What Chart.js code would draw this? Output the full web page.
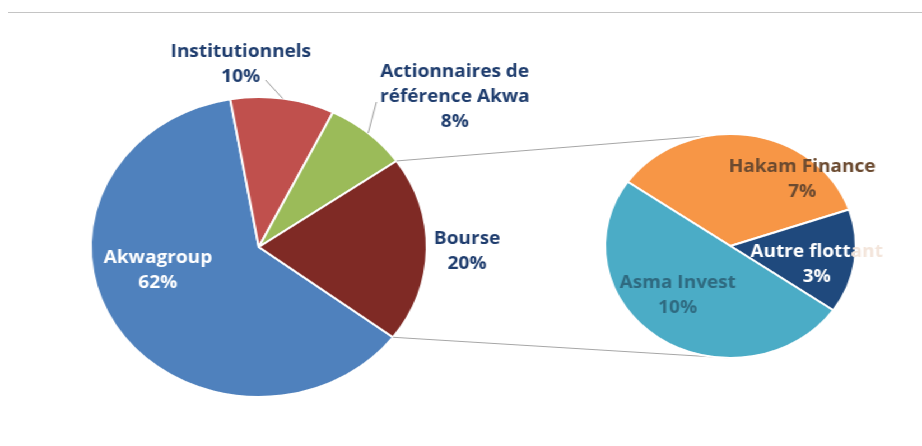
<!DOCTYPE html>
<html>
<head>
<meta charset="utf-8">
<script src="https://cdn.jsdelivr.net/npm/chart.js@4.4.1/dist/chart.umd.min.js"></script>
<style>
  html, body { margin: 0; padding: 0; background: #fff; }
  #frame { position: relative; width: 922px; height: 446px; overflow: hidden; }
  #topline { position: absolute; left: 8px; right: 0; top: 12px; border-top: 1px solid #c4c4c4; }
  /* the source picture is stretched horizontally, so stretch the canvases too */
  #stage { position: absolute; left: 0; top: 0; width: 823px; height: 446px;
           transform: scaleX(1.1203); transform-origin: 0 0; }
  #stage canvas { position: absolute; left: 0; top: 0; }
</style>
</head>
<body>
<div id="frame">
  <div id="topline"></div>
  <div id="stage">
    <canvas id="mainPie" width="823" height="446"></canvas>
    <canvas id="subPie" width="823" height="446"></canvas>
  </div>
</div>
<script>
// main pie
const mainLabels = ["Akwagroup", "Institutionnels", "Actionnaires de référence Akwa", "Bourse"];
const mainValues = [62, 10, 8, 20];
const mainColors = ["#4f81bd", "#c0504d", "#9bbb59", "#7f2a25"];

// breakdown of "Bourse"
const subLabels = ["Hakam Finance", "Autre flottant", "Asma Invest"];
const subValues = [7, 3, 10];
const subColors = ["#f79646", "#1f497d", "#4bacc6"];

const FONT = "bold 17px 'Open Sans', sans-serif";
const NAVY = "#1f3d6e";

// label text lines, placed next to their slices
const mainText = [
  { lines: ["Akwagroup", "62%"], x: 141, y: 258, color: "#ffffff" },
  { lines: ["Institutionnels", "10%"], x: 215, y: 52, color: NAVY, leader: [237, 80] },
  { lines: ["Actionnaires de", "référence Akwa", "8%"], x: 406, y: 72, color: NAVY, leader: [336, 102] },
  { lines: ["Bourse", "20%"], x: 417, y: 239, color: NAVY }
];
const subText = [
  { lines: ["Hakam Finance", "7%"], x: 716, y: 167, color: "#6b4a30" },
  // the end of "flottant" runs off the slice and is almost invisible in the source
  { lines: ["Autre flottant", "3%"], x: 729, y: 252, color: "#ffffff", fade: [0, 11, "#f3e5db"] },
  { lines: ["Asma Invest", "10%"], x: 605, y: 283, color: "#2f6a80" }
];

function labelPlugin(texts) {
  return {
    id: "sliceLabels",
    afterDatasetsDraw(chart) {
      const ctx = chart.ctx;
      const arcs = chart.getDatasetMeta(0).data;
      ctx.save();
      ctx.font = FONT;
      ctx.textBaseline = "middle";
      texts.forEach((t, i) => {
        if (t.leader) {
          const a = arcs[i].getProps(["x", "y", "startAngle", "endAngle", "outerRadius"], true);
          const mid = (a.startAngle + a.endAngle) / 2;
          ctx.strokeStyle = "#9a9a9a";
          ctx.lineWidth = 1;
          ctx.beginPath();
          ctx.moveTo(a.x + Math.cos(mid) * a.outerRadius, a.y + Math.sin(mid) * a.outerRadius);
          ctx.lineTo(t.leader[0], t.leader[1]);
          ctx.stroke();
        }
        t.lines.forEach((s, k) => {
          const y = t.y + k * 25;
          const w = ctx.measureText(s).width;
          const x0 = t.x - w / 2;
          ctx.textAlign = "left";
          if (t.fade && t.fade[0] === k) {
            const head = s.slice(0, t.fade[1]);
            ctx.fillStyle = t.color;
            ctx.fillText(head, x0, y);
            ctx.fillStyle = t.fade[2];
            ctx.fillText(s.slice(t.fade[1]), x0 + ctx.measureText(head).width, y);
          } else {
            ctx.fillStyle = t.color;
            ctx.fillText(s, x0, y);
          }
        });
      });
      ctx.restore();
    }
  };
}

const mainChart = new Chart(document.getElementById("mainPie"), {
  type: "pie",
  data: {
    labels: mainLabels,
    datasets: [{ data: mainValues, backgroundColor: mainColors, borderColor: "#ffffff", borderWidth: 2 }]
  },
  options: {
    responsive: false,
    animation: false,
    rotation: 127,
    layout: { padding: { left: 80, right: 441, top: 96, bottom: 48 } },
    plugins: { legend: { display: false }, tooltip: { enabled: false } }
  },
  plugins: [labelPlugin(mainText)]
});

// lines joining the "Bourse" slice to the second pie
const connectors = {
  id: "connectors",
  beforeDatasetsDraw(chart) {
    const b = mainChart.getDatasetMeta(0).data[3]
      .getProps(["x", "y", "startAngle", "endAngle", "outerRadius"], true);
    const s = chart.getDatasetMeta(0).data[0].getProps(["x", "y", "outerRadius"], true);
    const ctx = chart.ctx;
    ctx.save();
    ctx.strokeStyle = "#a6a6a6";
    ctx.lineWidth = 1;
    ctx.beginPath();
    ctx.moveTo(b.x + Math.cos(b.startAngle) * b.outerRadius, b.y + Math.sin(b.startAngle) * b.outerRadius);
    ctx.lineTo(s.x, s.y - s.outerRadius);
    ctx.moveTo(b.x + Math.cos(b.endAngle) * b.outerRadius, b.y + Math.sin(b.endAngle) * b.outerRadius);
    ctx.lineTo(s.x, s.y + s.outerRadius);
    ctx.stroke();
    ctx.restore();
  }
};

new Chart(document.getElementById("subPie"), {
  type: "pie",
  data: {
    labels: subLabels,
    datasets: [{ data: subValues, backgroundColor: subColors, borderColor: "#ffffff", borderWidth: 2 }]
  },
  options: {
    responsive: false,
    animation: false,
    rotation: -55,
    layout: { padding: { left: 539, right: 58, top: 133, bottom: 87 } },
    plugins: { legend: { display: false }, tooltip: { enabled: false } }
  },
  plugins: [connectors, labelPlugin(subText)]
});
</script>
</body>
</html>
